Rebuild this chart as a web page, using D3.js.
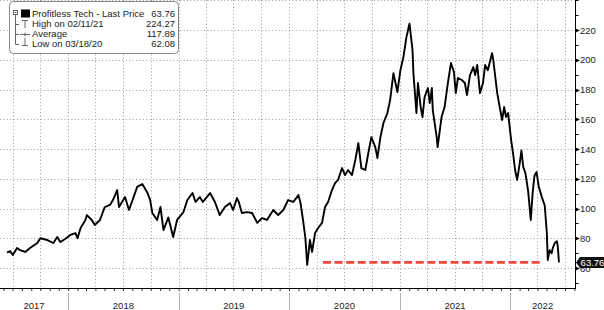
<!DOCTYPE html>
<html>
<head>
<meta charset="utf-8">
<script src="https://cdn.jsdelivr.net/npm/d3@7"></script>
<style>
  body { margin: 0; background: #fff; }
  svg { display: block; font-family: "Liberation Sans", Arial, sans-serif; }
</style>
</head>
<body>
<svg id="chart"></svg>
<script>
// price series
const dates = [
  "2017-06-13", "2017-06-23", "2017-07-02", "2017-07-16", "2017-07-26", "2017-08-12", "2017-08-28", "2017-09-21",
  "2017-10-01", "2017-10-24", "2017-11-13", "2017-11-26", "2017-12-06", "2017-12-22", "2018-01-08", "2018-01-25",
  "2018-02-01", "2018-02-11", "2018-02-27", "2018-03-04", "2018-03-20", "2018-03-30", "2018-04-16", "2018-05-02",
  "2018-05-19", "2018-05-29", "2018-06-12", "2018-06-18", "2018-07-08", "2018-07-21", "2018-08-04", "2018-08-17",
  "2018-09-03", "2018-09-19", "2018-09-29", "2018-10-06", "2018-10-22", "2018-11-02", "2018-11-12", "2018-11-28",
  "2018-12-14", "2018-12-27", "2019-01-17", "2019-01-30", "2019-02-16", "2019-02-26", "2019-03-12", "2019-03-22",
  "2019-04-15", "2019-05-01", "2019-05-17", "2019-06-03", "2019-06-20", "2019-06-30", "2019-07-13", "2019-07-19",
  "2019-07-29", "2019-08-15", "2019-09-01", "2019-09-18", "2019-10-04", "2019-10-20", "2019-11-10", "2019-11-26",
  "2019-12-13", "2019-12-29", "2020-01-15", "2020-02-01", "2020-02-08", "2020-02-17", "2020-02-24", "2020-03-01",
  "2020-03-10", "2020-03-17", "2020-03-27", "2020-04-06", "2020-04-19", "2020-04-29", "2020-05-09", "2020-05-22",
  "2020-06-01", "2020-06-11", "2020-06-24", "2020-07-04", "2020-07-14", "2020-07-27", "2020-08-07", "2020-08-17",
  "2020-08-27", "2020-09-09", "2020-09-19", "2020-09-29", "2020-10-12", "2020-10-19", "2020-10-29", "2020-11-08",
  "2020-11-21", "2020-11-30", "2020-12-11", "2020-12-24", "2021-01-03", "2021-01-13", "2021-01-23", "2021-02-02",
  "2021-02-12", "2021-02-15", "2021-02-25", "2021-03-02", "2021-03-11", "2021-03-17", "2021-03-24", "2021-04-04",
  "2021-04-10", "2021-04-17", "2021-04-20", "2021-05-03", "2021-05-06", "2021-05-19", "2021-05-29", "2021-06-09",
  "2021-06-19", "2021-06-29", "2021-07-05", "2021-07-12", "2021-07-25", "2021-08-04", "2021-08-11", "2021-08-21",
  "2021-09-01", "2021-09-07", "2021-09-14", "2021-09-23", "2021-10-03", "2021-10-10", "2021-10-19", "2021-11-02",
  "2021-11-06", "2021-11-19", "2021-11-29", "2021-12-05", "2021-12-12", "2021-12-18", "2021-12-25", "2022-01-04",
  "2022-01-11", "2022-01-17", "2022-01-24", "2022-02-01", "2022-02-07", "2022-02-13", "2022-02-20", "2022-03-01",
  "2022-03-10", "2022-03-16", "2022-03-22", "2022-03-29", "2022-04-05", "2022-04-15", "2022-04-25", "2022-05-02",
  "2022-05-05", "2022-05-11", "2022-05-18", "2022-05-21", "2022-05-28", "2022-06-04", "2022-06-07", "2022-06-11"
];
const prices = [
  70.3, 71.4, 68.7, 73.4, 72, 70.8, 73.4, 76.8,
  80, 78.8, 76.8, 80.8, 77.5, 79.5, 82.2, 83.5,
  80, 86.9, 92.3, 95.6, 92.3, 88.9, 92.3, 101,
  102.4, 105.7, 112.4, 101, 107.7, 99, 107, 114.5,
  116.5, 111, 105.7, 97, 92.3, 101, 85.5, 94,
  80.8, 92.3, 97.6, 105.7, 110.4, 104.4, 107.7, 104.4,
  110.4, 104.4, 95.6, 101, 103.7, 99, 107, 104.4,
  97, 97.6, 97, 90.3, 93.6, 92.3, 99, 95.6,
  99, 105.7, 104.4, 109, 103.7, 91, 80, 62.08,
  78.8, 70.8, 83.5, 86.9, 90.3, 101, 104.4, 112.4,
  117.1, 119.2, 127.2, 122.5, 125.9, 122.5, 132.6, 144,
  127.2, 125.9, 137.3, 148, 141.3, 134, 148, 157.5,
  164.2, 172.9, 191, 178.3, 193, 201.8, 215.3, 224.27,
  206.6, 191, 164.2, 184.4, 168.2, 161.5, 175, 181,
  170.9, 181, 166.2, 148, 141.3, 161.5, 168.2, 184.4,
  197.8, 191.8, 177.6, 187.7, 186.4, 184.4, 176.3, 189.7,
  195.1, 189.7, 196.5, 177.6, 184.4, 196.5, 193, 204.5,
  199.8, 177.6, 166.2, 159.5, 168.2, 161.5, 164.2, 146,
  136, 125.9, 119.2, 130, 139, 127.9, 124, 112,
  92.3, 110.4, 122, 124.5, 115, 108, 102, 83.5,
  65.4, 72, 70, 73, 76.8, 78, 75, 63.76
];

const yLabels = [60, 80, 100, 120, 140, 160, 180, 200, 220];
const lastPrice = 63.76;
const refLine = ["2020-04-22", "2022-04-18"];

const legendLabels = ["Profitless Tech - Last Price", "High on 02/11/21", "Average", "Low on 03/18/20"];
const legendValues = ["63.76", "224.27", "117.89", "62.08"];

const width = 604;
const height = 310;
const plotRight = 575;
const plotBottom = 288;

const parse = d3.timeParse("%Y-%m-%d");
const data = dates.map((d, i) => ({date: parse(d), value: prices[i]}));

const svg = d3.select("#chart")
    .attr("width", width)
    .attr("height", height);

const x = d3.scaleTime()
    .domain([parse("2017-07-01"), parse("2022-07-01")])
    .range([12.5, 565]);
const y = d3.scaleLinear()
    .domain([46.55, 240.2])
    .range([plotBottom, 0]);

const xStart = x.invert(0);
const xEnd = x.invert(plotRight);

// dotted grid
const grid = svg.append("g")
    .attr("stroke", "#9a9a9a")
    .attr("stroke-width", 1)
    .attr("stroke-dasharray", "1,2.4");

grid.selectAll(".hgrid")
    .data(d3.range(60, 241, 20))
    .enter().append("line")
    .attr("x1", 0)
    .attr("x2", plotRight)
    .attr("y1", d => Math.round(y(d)) + 0.5)
    .attr("y2", d => Math.round(y(d)) + 0.5);

grid.selectAll(".vgrid")
    .data(d3.timeMonth.every(3).range(xStart, xEnd))
    .enter().append("line")
    .attr("x1", d => Math.round(x(d)) + 0.5)
    .attr("x2", d => Math.round(x(d)) + 0.5)
    .attr("y1", 0)
    .attr("y2", plotBottom);

// price line
const line = d3.line()
    .x(d => x(d.date))
    .y(d => y(d.value));

svg.append("path")
    .datum(data)
    .attr("fill", "none")
    .attr("stroke", "#000")
    .attr("stroke-width", 1.9)
    .attr("stroke-linejoin", "round")
    .attr("d", line);

// red dashed level line
svg.append("line")
    .attr("x1", x(parse(refLine[0])))
    .attr("x2", x(parse(refLine[1])))
    .attr("y1", y(lastPrice))
    .attr("y2", y(lastPrice))
    .attr("stroke", "#f0473a")
    .attr("stroke-width", 2.6)
    .attr("stroke-dasharray", "8,3.6");

// bottom axis with monthly ticks
svg.append("g")
    .attr("transform", `translate(0,${plotBottom})`)
    .call(d3.axisBottom(x).tickValues(d3.timeMonth.range(xStart, xEnd)).tickSize(3).tickFormat(""))
    .call(g => g.select(".domain").remove())
    .call(g => g.selectAll("line").attr("stroke", "#333"));

svg.append("line")
    .attr("x1", 0)
    .attr("x2", plotRight + 0.5)
    .attr("y1", plotBottom + 0.5)
    .attr("y2", plotBottom + 0.5)
    .attr("stroke", "#000");

// year band
const years = d3.timeYear.range(d3.timeYear.floor(xStart), xEnd);
svg.selectAll(".yearSep")
    .data(years.filter(d => x(d) > 0))
    .enter().append("line")
    .attr("x1", d => Math.round(x(d)) + 0.5)
    .attr("x2", d => Math.round(x(d)) + 0.5)
    .attr("y1", 293)
    .attr("y2", height)
    .attr("stroke", "#b5b5b5");

svg.selectAll(".yearLabel")
    .data(years)
    .enter().append("text")
    .attr("x", d => (Math.max(0, x(d)) + Math.min(plotRight, x(d3.timeYear.offset(d, 1)))) / 2)
    .attr("y", 308.5)
    .attr("text-anchor", "middle")
    .attr("font-size", "9.5px")
    .attr("fill", "#222")
    .text(d => d3.timeFormat("%Y")(d));

// right axis
const yAxis = svg.append("g")
    .attr("transform", `translate(${plotRight},0)`)
    .call(d3.axisRight(y).tickValues(yLabels).tickSize(0).tickPadding(5))
    .call(g => g.select(".domain").remove());
yAxis.selectAll("text")
    .attr("font-family", "Liberation Sans, Arial, sans-serif")
    .attr("font-size", "9.5px")
    .attr("fill", "#222");

svg.append("line")
    .attr("x1", plotRight + 0.5)
    .attr("x2", plotRight + 0.5)
    .attr("y1", 0)
    .attr("y2", plotBottom + 1)
    .attr("stroke", "#000");

svg.selectAll(".minorTick")
    .data(d3.range(50, 241, 10).filter(d => !yLabels.includes(d)))
    .enter().append("line")
    .attr("x1", plotRight)
    .attr("x2", plotRight + 3.5)
    .attr("y1", d => Math.round(y(d)) + 0.5)
    .attr("y2", d => Math.round(y(d)) + 0.5)
    .attr("stroke", "#000");

svg.selectAll(".majorTick")
    .data(yLabels)
    .enter().append("path")
    .attr("transform", d => `translate(${plotRight},${Math.round(y(d)) + 0.5})`)
    .attr("d", "M0,-2.2L5,0L0,2.2Z")
    .attr("fill", "#000");

// last price tag
const tag = svg.append("g")
    .attr("transform", `translate(${plotRight},${y(lastPrice)})`);
tag.append("path")
    .attr("d", "M1,0L5,-5.5H30V5.5H5Z")
    .attr("fill", "#111");
tag.append("text")
    .attr("x", 17.5)
    .attr("y", 0)
    .attr("dy", "0.35em")
    .attr("text-anchor", "middle")
    .attr("font-size", "9.5px")
    .attr("fill", "#fff")
    .text(lastPrice.toFixed(2));

// legend
const legend = svg.append("g");
legend.append("rect")
    .attr("x", 9.5)
    .attr("y", 1.5)
    .attr("width", 169)
    .attr("height", 52)
    .attr("rx", 4)
    .attr("fill", "#fff")
    .attr("stroke", "#8a8a8a");

const rowY = d3.scalePoint().domain(legendLabels).range([17, 47]);

legend.selectAll(".legLabel")
    .data(legendLabels)
    .enter().append("text")
    .attr("x", 32)
    .attr("y", d => rowY(d))
    .attr("font-size", "9.5px")
    .attr("fill", "#222")
    .text(d => d);

legend.selectAll(".legValue")
    .data(legendValues)
    .enter().append("text")
    .attr("x", 175)
    .attr("y", (d, i) => rowY(legendLabels[i]))
    .attr("text-anchor", "end")
    .attr("font-size", "9.5px")
    .attr("fill", "#222")
    .text(d => d);

// legend icons
const icons = legend.append("g")
    .attr("stroke", "#666")
    .attr("fill", "none")
    .attr("stroke-width", 1);
icons.append("rect").attr("x", 13.5).attr("y", 10.5).attr("width", 4).attr("height", 4);
icons.append("line").attr("x1", 14.5).attr("x2", 16.5).attr("y1", 12.5).attr("y2", 12.5);
icons.append("path").attr("d", "M15.5,15V44.5H19M15.5,24.5H19M15.5,34.5H19");
icons.append("path").attr("d", "M22,20.5H28M25,20.5V28");
icons.append("path").attr("d", "M20,34.5H30M25,32.5V36.5");
icons.append("path").attr("d", "M25,38V45.5M22,45.5H28");
legend.append("rect")
    .attr("x", 21)
    .attr("y", 9.5)
    .attr("width", 9)
    .attr("height", 8)
    .attr("fill", "#000");
</script>
</body>
</html>
